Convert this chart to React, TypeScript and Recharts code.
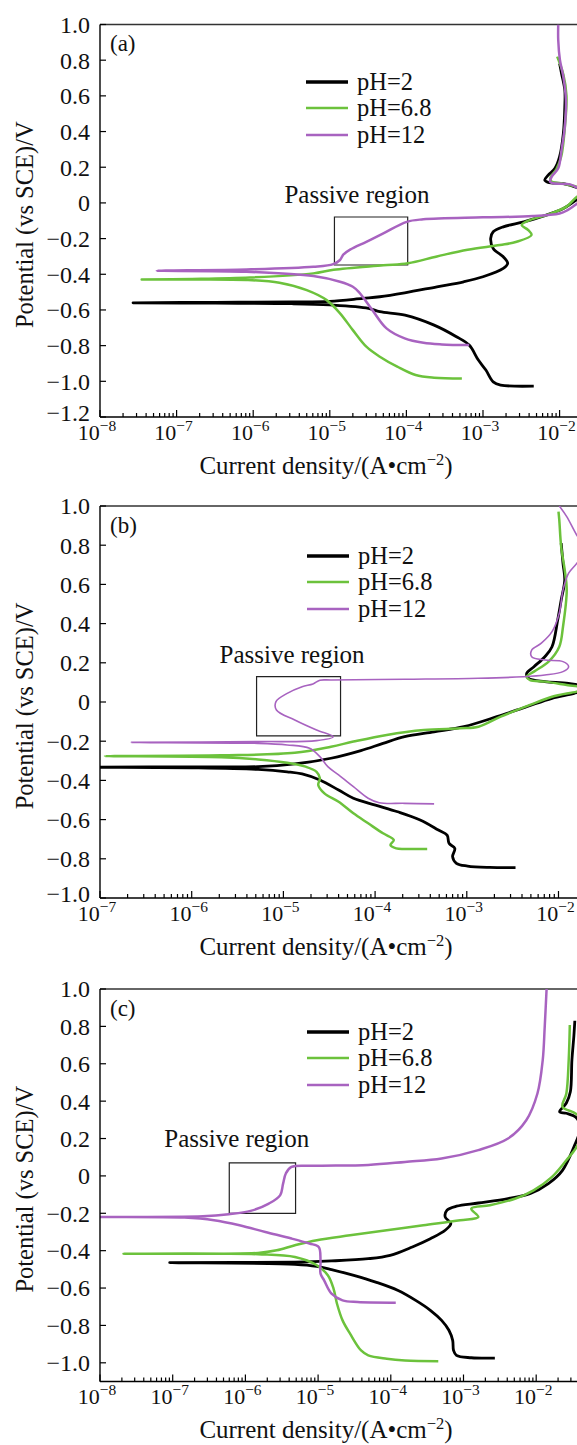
import React from "react"
import {
  LineChart,
  Line,
  XAxis,
  YAxis,
  ReferenceArea,
  ReferenceLine,
  Legend,
} from "recharts"

const FONT = '"Liberation Serif", "Times New Roman", serif'

const SERIES_NAMES = ["pH=2", "pH=6.8", "pH=12"]
const SERIES_COLORS = ["#000000", "#6cc23c", "#a863c0"]

// [current density (A/cm2), potential (V vs SCE)], traced cathodic end -> Ecorr -> anodic end
const aPH2: [number, number][] = [
  [4.6e-3, -1.027], [1.7e-3, -1.021], [1.36e-3, -1.003], [1.09e-3, -0.937], [8.7e-4, -0.881],
  [6.6e-4, -0.797], [4.5e-4, -0.75], [2.3e-4, -0.685], [9.6e-5, -0.629], [4.5e-5, -0.61],
  [3.2e-5, -0.591], [1.0e-5, -0.572], [3.2e-6, -0.565], [3.2e-7, -0.562], [2.7e-8, -0.56],
  [3.2e-7, -0.557], [3.2e-6, -0.555], [1.0e-5, -0.552], [2.7e-5, -0.535], [4.5e-5, -0.526],
  [9.5e-5, -0.504], [2.5e-4, -0.47], [5.6e-4, -0.442], [1.0e-3, -0.414], [1.84e-3, -0.367],
  [2.1e-3, -0.339], [1.84e-3, -0.302], [1.36e-3, -0.255], [1.26e-3, -0.199], [1.36e-3, -0.162],
  [1.84e-3, -0.134], [3.4e-3, -0.106], [6.1e-3, -0.074], [1.12e-2, -0.031], [1.7e-2, 0.02],
  [2.4e-2, 0.055], [1.7e-2, 0.085], [1.12e-2, 0.108], [7.1e-3, 0.115], [6.4e-3, 0.128],
  [7.1e-3, 0.156], [8.7e-3, 0.194], [1.0e-2, 0.259], [1.12e-2, 0.39], [1.17e-2, 0.539],
  [1.17e-2, 0.633], [1.06e-2, 0.726], [1.0e-2, 0.782],
]
const aPH68: [number, number][] = [
  [5.3e-4, -0.984], [2.3e-4, -0.98], [1.32e-4, -0.965], [7.6e-5, -0.918], [4.5e-5, -0.862],
  [3.0e-5, -0.806], [2.0e-5, -0.713], [1.36e-5, -0.619], [9.1e-6, -0.545], [5.0e-6, -0.489],
  [2.2e-6, -0.448], [8.2e-7, -0.432], [1.6e-7, -0.429], [3.5e-8, -0.429], [1.6e-7, -0.426],
  [9.1e-7, -0.418], [6.1e-6, -0.395], [1.12e-5, -0.375], [5.0e-5, -0.35], [1.05e-4, -0.338],
  [2.5e-4, -0.3], [6.3e-4, -0.262], [1.67e-3, -0.236], [2.75e-3, -0.218], [4.3e-3, -0.18],
  [3.9e-3, -0.152], [3.2e-3, -0.124], [4.1e-3, -0.096], [6.8e-3, -0.068], [1.23e-2, -0.021],
  [1.7e-2, 0.035], [2.5e-2, 0.065], [1.7e-2, 0.09], [1.12e-2, 0.108], [7.8e-3, 0.12],
  [7.6e-3, 0.14], [9.1e-3, 0.19], [1.05e-2, 0.26], [1.17e-2, 0.42], [1.23e-2, 0.6],
  [1.12e-2, 0.72], [9.3e-3, 0.82],
]
const aPH12: [number, number][] = [
  [6.6e-4, -0.797], [2.9e-4, -0.793], [1.67e-4, -0.784], [9.5e-5, -0.759], [5.5e-5, -0.703],
  [3.6e-5, -0.601], [2.4e-5, -0.5], [2.0e-5, -0.47], [1.36e-5, -0.442], [6.1e-6, -0.41],
  [8.2e-7, -0.386], [5.5e-8, -0.38], [8.2e-7, -0.373], [6.1e-6, -0.358], [1.11e-5, -0.343],
  [1.36e-5, -0.32], [1.5e-5, -0.29], [1.84e-5, -0.262], [3.0e-5, -0.218], [5.0e-5, -0.171],
  [1.01e-4, -0.106], [1.66e-4, -0.092], [1.0e-3, -0.081], [4.5e-3, -0.074], [1.0e-2, -0.059],
  [1.23e-2, -0.044], [1.7e-2, -0.003], [2.4e-2, 0.045], [1.7e-2, 0.085], [1.37e-2, 0.104],
  [8.3e-3, 0.11], [7.5e-3, 0.119], [7.9e-3, 0.147], [9.6e-3, 0.194], [1.06e-2, 0.296],
  [1.17e-2, 0.427], [1.21e-2, 0.577], [1.12e-2, 0.707], [1.01e-2, 0.801], [9.6e-3, 0.913],
  [9.6e-3, 1.0],
]

const bPH2: [number, number][] = [
  [3.4e-3, -0.845], [1.77e-3, -0.844], [1.02e-3, -0.837], [7.7e-4, -0.823], [7.0e-4, -0.789],
  [7.4e-4, -0.747], [6.4e-4, -0.721], [6.1e-4, -0.679], [4.9e-4, -0.653], [3.1e-4, -0.602],
  [1.76e-4, -0.56], [1.01e-4, -0.526], [5.8e-5, -0.491], [4.0e-5, -0.449], [2.5e-5, -0.398],
  [1.6e-5, -0.367], [1.1e-5, -0.356], [5.3e-6, -0.344], [1.0e-6, -0.336], [8.5e-8, -0.333],
  [1.0e-6, -0.331], [5.3e-6, -0.33], [1.33e-5, -0.316], [3.3e-5, -0.287], [7.0e-5, -0.248],
  [1.22e-4, -0.211], [2.1e-4, -0.177], [4.4e-4, -0.152], [9.3e-4, -0.126], [2.13e-3, -0.075],
  [4.5e-3, -0.024], [8.5e-3, 0.019], [1.48e-2, 0.044], [2.2e-2, 0.07], [1.29e-2, 0.095],
  [7.1e-3, 0.104], [4.7e-3, 0.121], [4.5e-3, 0.146], [5.4e-3, 0.18], [7.1e-3, 0.231],
  [8.5e-3, 0.282], [9.8e-3, 0.418], [1.07e-2, 0.52], [1.17e-2, 0.622], [1.12e-2, 0.707],
  [1.07e-2, 0.81],
]
const bPH68: [number, number][] = [
  [3.7e-4, -0.75], [2.1e-4, -0.75], [1.7e-4, -0.747], [1.47e-4, -0.73], [1.6e-4, -0.704],
  [1.22e-4, -0.67], [8.4e-5, -0.619], [5.8e-5, -0.568], [4.0e-5, -0.509], [2.8e-5, -0.466],
  [2.4e-5, -0.423], [2.5e-5, -0.389], [2.3e-5, -0.356], [1.75e-5, -0.33], [1.1e-5, -0.31],
  [5.3e-6, -0.293], [2.1e-6, -0.282], [1.13e-7, -0.276], [2.1e-6, -0.272], [1.33e-5, -0.259],
  [3.3e-5, -0.228], [5.8e-5, -0.202], [1.34e-4, -0.168], [3.4e-4, -0.143], [8.5e-4, -0.134],
  [1.34e-3, -0.126], [2.34e-3, -0.075], [4.9e-3, -0.015], [8.5e-3, 0.027], [1.58e-2, 0.053],
  [2.1e-2, 0.07], [1.23e-2, 0.087], [7.1e-3, 0.104], [4.9e-3, 0.112], [4.5e-3, 0.129],
  [5.4e-3, 0.155], [7.8e-3, 0.206], [1.02e-2, 0.282], [1.12e-2, 0.384], [1.23e-2, 0.571],
  [1.17e-2, 0.673], [1.07e-2, 0.792], [1.02e-2, 0.929], [1.0e-2, 0.971],
]
const bPH12: [number, number][] = [
  [4.4e-4, -0.52], [2.1e-4, -0.517], [1.11e-4, -0.514], [8.4e-5, -0.491], [5.8e-5, -0.432],
  [4.0e-5, -0.372], [3.05e-5, -0.33], [2.5e-5, -0.279], [1.93e-5, -0.236], [1.1e-5, -0.219],
  [5.3e-6, -0.211], [2.2e-7, -0.206], [5.3e-6, -0.202], [2.3e-5, -0.197], [3.5e-5, -0.177],
  [2.3e-5, -0.143], [1.33e-5, -0.092], [8.4e-6, -0.041], [8.3e-6, 0.002], [1.1e-5, 0.044],
  [1.6e-5, 0.078], [2.1e-5, 0.092], [2.5e-5, 0.111], [3.35e-5, 0.112], [2.1e-4, 0.116],
  [1.34e-3, 0.121], [4.1e-3, 0.129], [7.1e-3, 0.138], [1.12e-2, 0.155], [1.29e-2, 0.18],
  [1.12e-2, 0.206], [7.1e-3, 0.214], [5.1e-3, 0.231], [5.1e-3, 0.265], [6.5e-3, 0.3],
  [8.5e-3, 0.359], [1.02e-2, 0.453], [1.12e-2, 0.571], [1.29e-2, 0.657], [1.58e-2, 0.707],
  [2.0e-2, 0.78], [1.58e-2, 0.852], [1.23e-2, 0.946], [1.02e-2, 1.0],
]

const cPH2: [number, number][] = [
  [2.7e-3, -0.975], [1.28e-3, -0.973], [8.0e-4, -0.96], [7.3e-4, -0.934], [7.1e-4, -0.88],
  [6.3e-4, -0.826], [5.0e-4, -0.773], [3.5e-4, -0.719], [2.2e-4, -0.666], [1.24e-4, -0.612],
  [6.2e-5, -0.568], [3.1e-5, -0.532], [1.53e-5, -0.501], [9.6e-6, -0.484], [4.8e-6, -0.473],
  [9.1e-8, -0.464], [4.8e-6, -0.461], [1.53e-5, -0.455], [4.9e-5, -0.443], [9.8e-5, -0.425],
  [1.98e-4, -0.38], [3.5e-4, -0.336], [5.6e-4, -0.291], [6.7e-4, -0.255], [5.6e-4, -0.22],
  [5.9e-4, -0.184], [8.0e-4, -0.162], [1.6e-3, -0.145], [4.1e-3, -0.121], [8.2e-3, -0.095],
  [1.47e-2, -0.041], [2.3e-2, 0.03], [3.3e-2, 0.155], [4.0e-2, 0.25], [3.6e-2, 0.31],
  [2.6e-2, 0.335], [2.1e-2, 0.343], [2.6e-2, 0.39], [2.95e-2, 0.45], [3.1e-2, 0.62],
  [3.3e-2, 0.75], [3.4e-2, 0.83],
]
const cPH68: [number, number][] = [
  [4.5e-4, -0.991], [1.57e-4, -0.987], [8.8e-5, -0.978], [4.9e-5, -0.96], [3.9e-5, -0.934],
  [2.75e-5, -0.844], [2.17e-5, -0.773], [1.82e-5, -0.684], [1.63e-5, -0.603], [1.36e-5, -0.532],
  [9.6e-6, -0.478], [4.8e-6, -0.434], [1.49e-6, -0.419], [2.1e-8, -0.416], [1.49e-6, -0.412],
  [2.7e-6, -0.398], [4.8e-6, -0.371], [9.6e-6, -0.344], [2.75e-5, -0.318], [8.8e-5, -0.291],
  [2.8e-4, -0.264], [9.0e-4, -0.237], [1.6e-3, -0.22], [1.28e-3, -0.175], [2.3e-3, -0.157],
  [5.2e-3, -0.121], [9.2e-3, -0.077], [1.65e-2, -0.005], [2.6e-2, 0.084], [3.6e-2, 0.155],
  [4.5e-2, 0.26], [3.6e-2, 0.33], [2.3e-2, 0.37], [2.6e-2, 0.441], [2.8e-2, 0.62],
  [2.9e-2, 0.807],
]
const cPH12: [number, number][] = [
  [1.17e-4, -0.678], [3.5e-5, -0.675], [2.17e-5, -0.666], [1.53e-5, -0.63], [1.21e-5, -0.559],
  [1.08e-5, -0.523], [1.08e-5, -0.452], [1.02e-5, -0.38], [7.6e-6, -0.362], [4.3e-6, -0.335],
  [1.88e-6, -0.3], [8.3e-7, -0.264], [3.7e-7, -0.237], [1.45e-7, -0.223], [5.0e-9, -0.22],
  [2.6e-7, -0.216], [5.9e-7, -0.205], [1.18e-6, -0.187], [2.1e-6, -0.148], [3.0e-6, -0.104],
  [3.3e-6, -0.041], [3.6e-6, 0.013], [4.3e-6, 0.048], [8.6e-6, 0.054], [4.9e-5, 0.059],
  [1.57e-4, 0.075], [5.0e-4, 0.093], [1.6e-3, 0.138], [4.1e-3, 0.2], [7.3e-3, 0.298],
  [1.04e-2, 0.441], [1.23e-2, 0.62], [1.31e-2, 0.798], [1.39e-2, 1.0],
]

// axis ticks: labelled decades, plus the decade where each axis ends (cropped off the right edge)
const aYTicks = [1.0, 0.8, 0.6, 0.4, 0.2, 0, -0.2, -0.4, -0.6, -0.8, -1.0, -1.2]
const bYTicks = [1.0, 0.8, 0.6, 0.4, 0.2, 0, -0.2, -0.4, -0.6, -0.8, -1.0]
const cYTicks = [1.0, 0.8, 0.6, 0.4, 0.2, 0, -0.2, -0.4, -0.6, -0.8, -1.0]
const aDecades = [-8, -7, -6, -5, -4, -3, -2]
const bDecades = [-7, -6, -5, -4, -3, -2]
const cDecades = [-8, -7, -6, -5, -4, -3, -2]
const aXEnd = -1
const bXEnd = -1
const cXEnd = 0

// passive-region boxes [i1, i2], [E1, E2]
const aBoxI = [1.15e-5, 1.04e-4]
const aBoxE = [-0.348, -0.079]
const bBoxI = [5.1e-6, 4.2e-5]
const bBoxE = [-0.173, 0.129]
const cBoxI = [6.0e-7, 4.9e-6]
const cBoxE = [-0.201, 0.07]

const PANELS = [
  {
    tag: "(a)", top: 0, marginTop: 24.5, plotHeight: 392.5, pxPerDecade: 76.6,
    decades: aDecades, xEnd: aXEnd, yTicks: aYTicks, yDomain: [-1.2, 1.0],
    series: [aPH2, aPH68, aPH12], widths: [2.8, 2.5, 2.5],
    boxI: aBoxI, boxE: aBoxE, boxLabelDx: -50, boxLabelDy: 14,
    legendTop: 68.5, legendLeft: 306,
  },
  {
    tag: "(b)", top: 480, marginTop: 26, plotHeight: 392, pxPerDecade: 91.7,
    decades: bDecades, xEnd: bXEnd, yTicks: bYTicks, yDomain: [-1.0, 1.0],
    series: [bPH2, bPH68, bPH12], widths: [2.8, 2.5, 1.6],
    boxI: bBoxI, boxE: bBoxE, boxLabelDx: -37, boxLabelDy: 14,
    legendTop: 62.5, legendLeft: 307,
  },
  {
    tag: "(c)", top: 960, marginTop: 29, plotHeight: 392.5, pxPerDecade: 72.7,
    decades: cDecades, xEnd: cXEnd, yTicks: cYTicks, yDomain: [-1.1, 1.0],
    series: [cPH2, cPH68, cPH12], widths: [2.8, 2.5, 2.5],
    boxI: cBoxI, boxE: cBoxE, boxLabelDx: -65, boxLabelDy: 16,
    legendTop: 58.5, legendLeft: 307,
  },
]

const LEGEND_WIDTHS = [3.4, 2.5, 2.5]
const X_AXIS_HEIGHT = 62
const Y_AXIS_WIDTH = 100
const PAGE_W = 577

const toRows = (pts: [number, number][]) => pts.map(([i, E]) => ({ i, E }))

// 1..9 x 10^d for every decade up to the axis end
const logTicks = (first: number, end: number) => {
  const out: number[] = []
  for (let d = first; d < end; d++) [1, 2, 3, 4, 5, 6, 7, 8, 9].forEach((m) => out.push(m * Math.pow(10, d)))
  return out
}

const fmtY = (v: number) => (Math.abs(v) < 1e-9 ? "0" : v.toFixed(1).replace("-", "\u2212"))

// centripetal Catmull-Rom through the traced points (the curves double back, so no monotone fit)
function smoothCurve(context: any) {
  let pts: number[][] = []
  return {
    areaStart() {},
    areaEnd() {},
    lineStart() {
      pts = []
    },
    point(x: number, y: number) {
      pts.push([+x, +y])
    },
    lineEnd() {
      if (!pts.length) return
      context.moveTo(pts[0][0], pts[0][1])
      const d = (a: number[], b: number[]) => Math.hypot(b[0] - a[0], b[1] - a[1])
      for (let k = 0; k + 1 < pts.length; k++) {
        const p0 = pts[k - 1] ?? pts[k]
        const p1 = pts[k]
        const p2 = pts[k + 1]
        const p3 = pts[k + 2] ?? pts[k + 1]
        const l01 = d(p0, p1), l12 = d(p1, p2), l23 = d(p2, p3)
        if (l12 < 1e-6) continue
        const a01 = Math.sqrt(l01), a12 = Math.sqrt(l12), a23 = Math.sqrt(l23)
        let c1 = p1
        let c2 = p2
        if (a01 > 1e-6) {
          const a = 2 * l01 + 3 * a01 * a12 + l12
          const n = 3 * a01 * (a01 + a12)
          c1 = [0, 1].map((j) => (p1[j] * a - p0[j] * l12 + p2[j] * l01) / n)
        }
        if (a23 > 1e-6) {
          const b = 2 * l23 + 3 * a23 * a12 + l12
          const m = 3 * a23 * (a23 + a12)
          c2 = [0, 1].map((j) => (p2[j] * b + p1[j] * l23 - p3[j] * l12) / m)
        }
        context.bezierCurveTo(c1[0], c1[1], c2[0], c2[1], p2[0], p2[1])
      }
    },
  }
}

function XTick({ x, y, payload, labelled }: any) {
  const lg = Math.log10(payload.value)
  const exp = Math.round(lg)
  const major = Math.abs(lg - exp) < 1e-6
  if (x > PAGE_W) return null
  return (
    <g>
      <line x1={x} x2={x} y1={y} y2={y - (major ? 7 : 4)} stroke="#000" strokeWidth={1.2} />
      {major && labelled.includes(exp) && (
        <text x={x - 3} y={y + 23} textAnchor="middle" fontFamily={FONT} fontSize={22} fill="#111">
          10
          <tspan dy={-9} fontSize={15.5}>
            {exp < 0 ? "\u2212" + Math.abs(exp) : String(exp)}
          </tspan>
        </text>
      )}
    </g>
  )
}

function YTick({ x, y, payload, bottom }: any) {
  // the lowest label sits a little above its tick, clear of the x labels
  const lift = Math.abs(payload.value - bottom) < 1e-9 ? -4 : 0
  return (
    <g>
      <line x1={x} x2={x + 6} y1={y} y2={y} stroke="#000" strokeWidth={1.2} />
      <text x={x - 10} y={y + lift} dy="0.35em" textAnchor="end" fontFamily={FONT} fontSize={24} fill="#111">
        {fmtY(payload.value)}
      </text>
    </g>
  )
}

function Panel({ cfg }: { cfg: (typeof PANELS)[number] }) {
  const first = cfg.decades[0]
  const width = Y_AXIS_WIDTH + (cfg.xEnd - first) * cfg.pxPerDecade
  const height = cfg.marginTop + cfg.plotHeight + X_AXIS_HEIGHT
  const xDomain = [Math.pow(10, first), Math.pow(10, cfg.xEnd)]

  return (
    <div style={{ position: "absolute", left: 0, top: cfg.top }}>
      <LineChart width={width} height={height} margin={{ top: cfg.marginTop, right: 0, left: 0, bottom: 0 }}>
        <XAxis
          dataKey="i"
          type="number"
          scale="log"
          domain={xDomain}
          allowDataOverflow
          ticks={logTicks(first, cfg.xEnd)}
          interval={0}
          tickSize={0}
          tickMargin={0}
          tickLine={false}
          tick={<XTick labelled={cfg.decades} />}
          height={X_AXIS_HEIGHT}
          axisLine={{ stroke: "#000", strokeWidth: 1.4 }}
          label={(p: any) => (
            <text
              x={p.viewBox.x + 226}
              y={p.viewBox.y + 57}
              textAnchor="middle"
              fontFamily={FONT}
              fontSize={25}
              fill="#111"
            >
              Current density/(A•cm
              <tspan dy={-9} fontSize={16.5}>−2</tspan>
              <tspan dy={9}>)</tspan>
            </text>
          )}
        />
        <YAxis
          type="number"
          domain={cfg.yDomain}
          allowDataOverflow
          ticks={cfg.yTicks}
          interval={0}
          tickSize={0}
          tickMargin={0}
          tickLine={false}
          tick={<YTick bottom={cfg.yDomain[0]} />}
          width={Y_AXIS_WIDTH}
          axisLine={{ stroke: "#000", strokeWidth: 1.4 }}
          label={(p: any) => {
            const cy = p.viewBox.y + p.viewBox.height / 2 + 4
            return (
              <g>
                <text
                  x={25}
                  y={cy}
                  transform={`rotate(-90, 25, ${cy})`}
                  textAnchor="middle"
                  dominantBaseline="central"
                  fontFamily={FONT}
                  fontSize={24.5}
                  fill="#111"
                >
                  Potential (vs SCE)/V
                </text>
                <text
                  x={p.viewBox.x + p.viewBox.width + 10}
                  y={p.viewBox.y + 27}
                  fontFamily={FONT}
                  fontSize={23}
                  fill="#111"
                >
                  {cfg.tag}
                </text>
              </g>
            )
          }}
        />
        <ReferenceLine y={cfg.yDomain[1]} stroke="#333" strokeWidth={1.3} />
        <ReferenceArea
          x1={cfg.boxI[0]}
          x2={cfg.boxI[1]}
          y1={cfg.boxE[0]}
          y2={cfg.boxE[1]}
          fill="none"
          stroke="#222"
          strokeWidth={1.2}
          label={(p: any) => (
            <text
              x={p.viewBox.x + cfg.boxLabelDx}
              y={p.viewBox.y - cfg.boxLabelDy}
              fontFamily={FONT}
              fontSize={25}
              fill="#111"
            >
              Passive region
            </text>
          )}
        />
        {cfg.series.map((pts, k) => (
          <Line
            key={SERIES_NAMES[k]}
            data={toRows(pts)}
            dataKey="E"
            name={SERIES_NAMES[k]}
            type={smoothCurve as any}
            stroke={SERIES_COLORS[k]}
            strokeWidth={cfg.widths[k]}
            strokeLinejoin="round"
            dot={false}
            activeDot={false}
            isAnimationActive={false}
          />
        ))}
        <Legend
          layout="vertical"
          align="center"
          verticalAlign="middle"
          wrapperStyle={{ left: cfg.legendLeft, top: cfg.legendTop, width: 200, height: "auto" }}
          content={({ payload }: any) => {
            const items = [...(payload || [])].sort(
              (p: any, q: any) => SERIES_NAMES.indexOf(p.value) - SERIES_NAMES.indexOf(q.value)
            )
            return (
              <div>
                {items.map((entry: any) => {
                  const k = SERIES_NAMES.indexOf(entry.value)
                  return (
                    <div key={entry.value} style={{ display: "flex", alignItems: "center", height: 26.5 }}>
                      <svg width={42} height={8} style={{ marginRight: 9 }}>
                        <line x1={0} x2={42} y1={4} y2={4} stroke={entry.color} strokeWidth={LEGEND_WIDTHS[k]} />
                      </svg>
                      <span style={{ fontFamily: FONT, fontSize: 24.5, color: "#111", lineHeight: "26.5px" }}>
                        {entry.value}
                      </span>
                    </div>
                  )
                })}
              </div>
            )
          }}
        />
      </LineChart>
    </div>
  )
}

export default function App() {
  return (
    <div
      style={{
        position: "absolute",
        left: 0,
        top: 0,
        width: PAGE_W,
        height: 1445,
        overflow: "hidden",
        background: "#fff",
      }}
    >
      {PANELS.map((cfg) => (
        <Panel key={cfg.tag} cfg={cfg} />
      ))}
    </div>
  )
}
